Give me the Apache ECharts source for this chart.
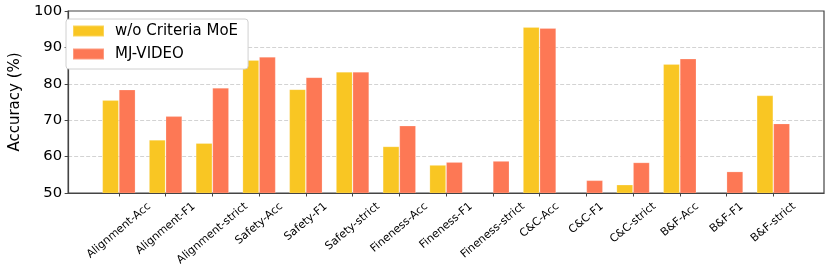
<!DOCTYPE html>
<html>
<head>
<meta charset="utf-8">
<script src="https://cdn.jsdelivr.net/npm/echarts@6/dist/echarts.min.js"></script>
<style>
  html, body { margin: 0; padding: 0; background: #ffffff; }
  #chart { width: 830px; height: 273px; }
</style>
</head>
<body>
<div id="chart"></div>
<script>
const categories = ['Alignment-Acc', 'Alignment-F1', 'Alignment-strict', 'Safety-Acc', 'Safety-F1', 'Safety-strict',
  'Fineness-Acc', 'Fineness-F1', 'Fineness-strict', 'C&C-Acc', 'C&C-F1', 'C&C-strict', 'B&F-Acc', 'B&F-F1', 'B&F-strict'];
const woCriteriaMoE = [75.5, 64.6, 63.7, 86.5, 78.5, 83.3, 62.8, 57.7, null, 95.6, null, 52.3, 85.4, null, 76.8];
const mjVideo = [78.4, 71.1, 78.9, 87.4, 81.8, 83.3, 68.5, 58.5, 58.8, 95.3, 53.5, 58.4, 86.9, 55.9, 69.1];
const seriesNames = ['w/o Criteria MoE', 'MJ-VIDEO'];

const FONT = '"DejaVu Sans", Verdana, sans-serif';
const XFS = 11;
const idx = categories.map((_, i) => i);
const toPoints = arr => arr.map((v, i) => [i, v]).filter(p => p[1] !== null);

// centre each rotated label on its tick (matplotlib ha="center" style)
const cv = document.createElement('canvas').getContext('2d');
cv.font = XFS + 'px "DejaVu Sans"';
const ROT = 40 * Math.PI / 180;
const rich = {};
categories.forEach((c, i) => {
  const L = cv.measureText(c).width;
  rich['r' + i] = {
    fontSize: XFS, fontFamily: FONT, color: '#000',
    padding: [L * Math.sin(ROT) * Math.cos(ROT), L * Math.sin(ROT) * Math.sin(ROT), 0, 0]
  };
});

const chart = echarts.init(document.getElementById('chart'), null, { renderer: 'canvas' });
chart.setOption({
  animation: false,
  backgroundColor: '#ffffff',
  grid: { left: 58, right: 6, top: 11, bottom: 80, show: true, borderColor: '#444', borderWidth: 1.2, backgroundColor: 'transparent' },
  legend: {
    orient: 'vertical', left: 66, top: 19,
    padding: [4, 10, 7, 6],
    backgroundColor: '#fff', borderColor: '#d0d0d0', borderWidth: 1, borderRadius: 3,
    itemWidth: 31, itemHeight: 11, itemGap: 7,
    icon: 'rect',
    textStyle: { fontSize: 15, fontFamily: FONT, color: '#000', lineHeight: 16, padding: [0, 0, 0, 6] },
    data: seriesNames
  },
  xAxis: {
    type: 'value', min: -1.085, max: 15.085, z: 5,
    axisLine: { show: true, onZero: false, lineStyle: { color: '#444', width: 1.2 } },
    axisTick: { show: true, length: 3.5, customValues: idx, lineStyle: { color: '#444', width: 1 } },
    axisLabel: {
      customValues: idx, rotate: 40, align: 'center', verticalAlign: 'middle', margin: 12,
      fontSize: XFS, fontFamily: FONT, color: '#000',
      formatter: (v) => { const i = Math.round(v); return '{r' + i + '|' + categories[i] + '}'; },
      rich: rich
    },
    splitLine: { show: false }
  },
  yAxis: {
    type: 'value', min: 50, max: 100, interval: 10,
    name: 'Accuracy (%)', nameLocation: 'middle', nameGap: 35,
    nameTextStyle: { fontSize: 15, fontFamily: FONT, color: '#000' },
    axisLine: { show: true, onZero: false, lineStyle: { color: '#444', width: 1.2 } },
    axisTick: { show: true, length: 3.5, lineStyle: { color: '#444' } },
    axisLabel: { fontSize: 14.8, fontFamily: FONT, color: '#000', margin: 6 },
    splitLine: { show: true, showMinLine: false, showMaxLine: false, lineStyle: { color: '#d3d3d3', type: [4, 2], width: 1 } }
  },
  series: [
    { name: seriesNames[0], type: 'bar', data: toPoints(woCriteriaMoE), barWidth: 16.6, barGap: '0%',
      itemStyle: { color: '#F9C623', borderColor: 'rgba(255,255,255,0.25)', borderWidth: 0.8 } },
    { name: seriesNames[1], type: 'bar', data: toPoints(mjVideo), barWidth: 16.6, barGap: '0%',
      itemStyle: { color: '#FD7855', borderColor: 'rgba(255,255,255,0.25)', borderWidth: 0.8 } }
  ]
});
</script>
</body>
</html>
